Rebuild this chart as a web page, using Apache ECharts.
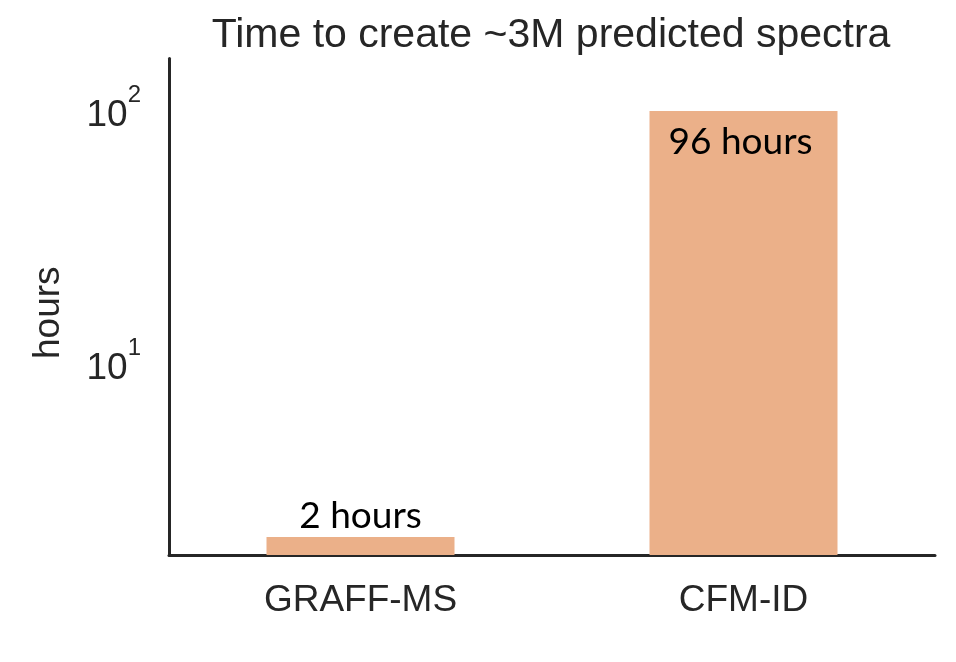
<!DOCTYPE html>
<html>
<head>
<meta charset="utf-8">
<script src="https://cdn.jsdelivr.net/npm/echarts@6/dist/echarts.min.js"></script>
<style>
  html, body { margin: 0; padding: 0; background: #ffffff; }
  #chart { width: 956px; height: 662px; }
</style>
</head>
<body>
<div id="chart"></div>
<script>
const categories = ['GRAFF-MS', 'CFM-ID'];
const hoursValues = [2, 96];
const barLabels = ['2 hours', '96 hours'];
const yTickExponents = [1, 2];
const yMin = 1.70;
const yMax = 154.6;

const chart = echarts.init(document.getElementById('chart'), null, { renderer: 'canvas' });
const textColor = '#262626';
const sansFont = '"Liberation Sans", Arial, sans-serif';

chart.setOption({
  animation: false,
  backgroundColor: '#ffffff',
  title: {
    text: 'Time to create ~3M predicted spectra',
    left: 546,
    top: 10,
    textAlign: 'center',
    textStyle: { fontFamily: sansFont, fontSize: 41, fontWeight: 'normal', color: textColor }
  },
  grid: { left: 169, right: 21, top: 58.5, bottom: 107, containLabel: false },
  xAxis: {
    type: 'category',
    data: categories,
    axisLine: { show: true, lineStyle: { color: textColor, width: 3 } },
    axisTick: { show: false },
    splitLine: { show: false },
    axisLabel: { fontFamily: sansFont, fontSize: 37, color: textColor, margin: 27 }
  },
  yAxis: {
    type: 'log',
    logBase: 10,
    min: yMin,
    max: yMax,
    name: 'hours',
    nameLocation: 'middle',
    nameGap: 102,
    nameTextStyle: { fontFamily: sansFont, fontSize: 37, color: textColor, padding: [0, 12, 0, 0] },
    axisLine: { show: true, lineStyle: { color: textColor, width: 3 } },
    axisTick: { show: false },
    splitLine: { show: false },
    axisLabel: {
      showMinLabel: false,
      showMaxLabel: false,
      margin: 28,
      padding: [4, 0, 0, 0],
      formatter: function (v) {
        const lg = Math.log10(v);
        const e = Math.round(lg);
        if (Math.abs(lg - e) > 1e-6 || yTickExponents.indexOf(e) < 0) return '';
        return '{b|10}{s|' + e + '}';
      },
      rich: {
        b: { fontFamily: sansFont, fontSize: 37, color: textColor, lineHeight: 51, verticalAlign: 'bottom' },
        s: { fontFamily: sansFont, fontSize: 24, color: textColor, lineHeight: 24, verticalAlign: 'top' }
      }
    }
  },
  series: [{
    type: 'bar',
    data: hoursValues.map((v, i) => ({
      value: v,
      label: {
        show: true,
        formatter: barLabels[i],
        position: i === 0 ? 'top' : 'insideTop',
        distance: i === 0 ? 3 : 5,
        offset: i === 0 ? [0, 0] : [-3, 8]
      }
    })),
    barWidth: 188,
    clip: true,
    itemStyle: { color: '#EBB089' },
    label: { fontFamily: 'Lato, "Open Sans", sans-serif', fontSize: 37, color: '#000000' }
  }]
});
</script>
</body>
</html>
